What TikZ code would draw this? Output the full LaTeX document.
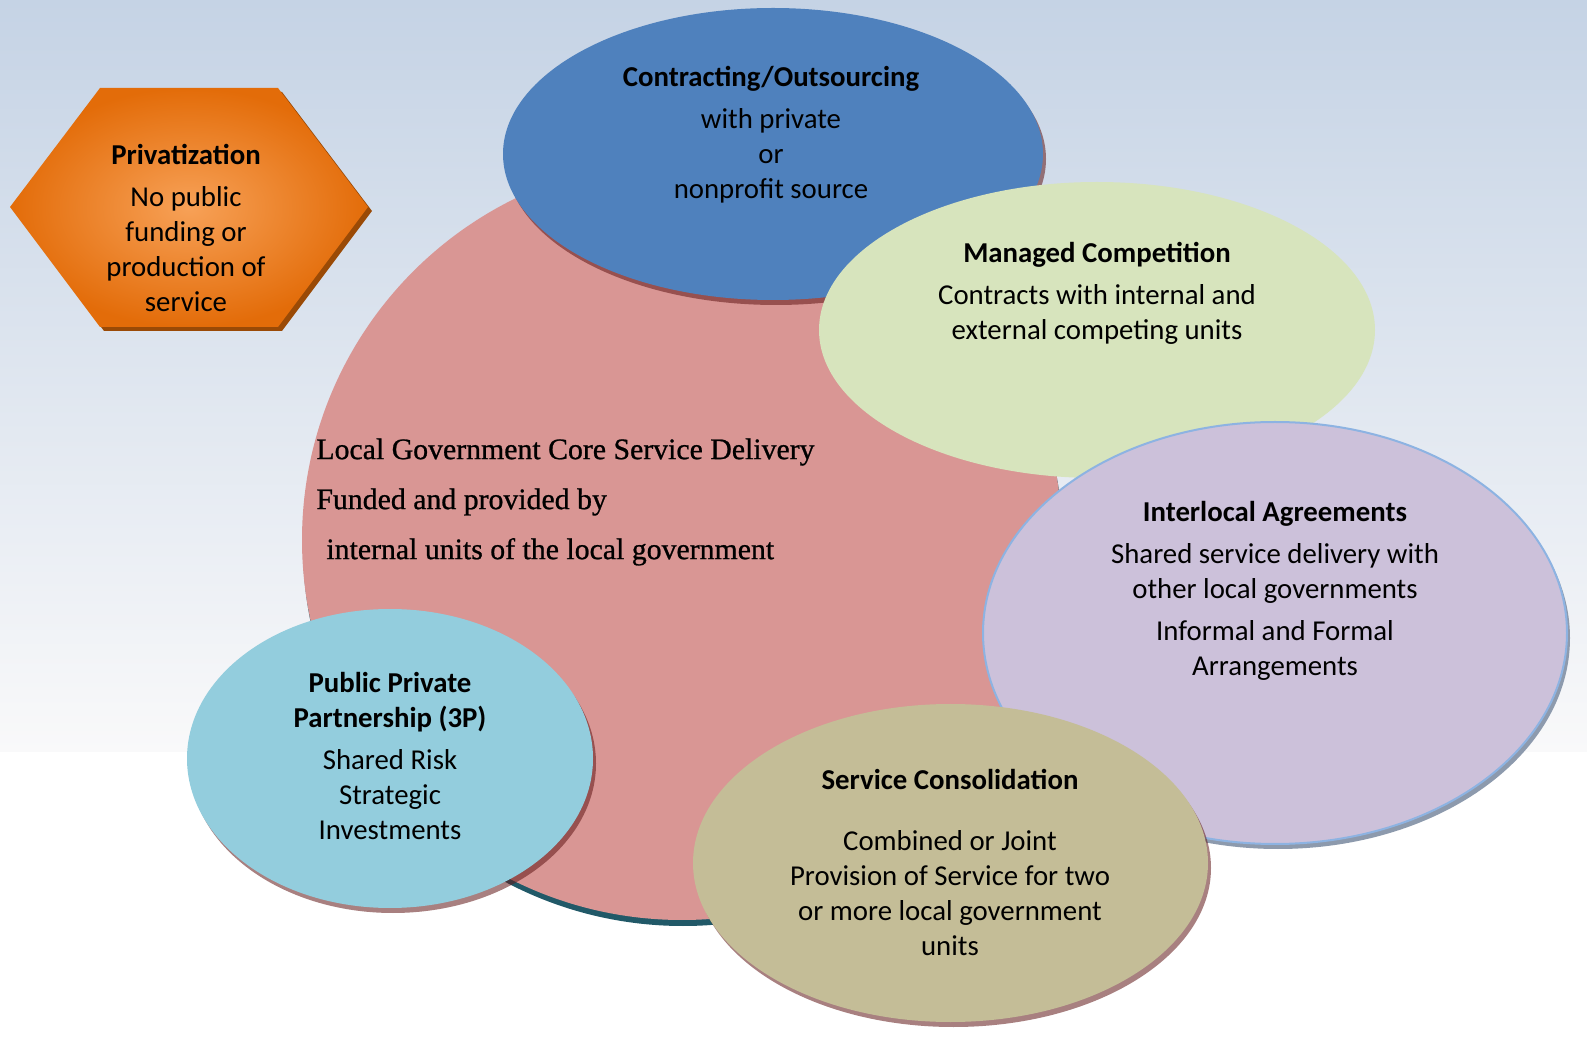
\documentclass[tikz,border=0pt]{standalone}
\usepackage{fontspec}
\newfontfamily\calib{Carlito}
\newfontfamily\coreserif[FakeBold=0.8]{Liberation Serif}
\usetikzlibrary{shapes.geometric,shadows}
\definecolor{bgtop}{HTML}{C5D3E5}
\definecolor{bgbot}{HTML}{F9F9FA}
\definecolor{corepink}{HTML}{D99694}
\definecolor{coreshadow}{HTML}{215968}
\definecolor{contrblue}{HTML}{4F81BD}
\definecolor{mgdgreen}{HTML}{D7E4BD}
\definecolor{ilpurple}{HTML}{CCC1DA}
\definecolor{ilborder}{HTML}{8DB3E2}
\definecolor{ilshadow}{HTML}{8D9AAD}
\definecolor{constan}{HTML}{C4BD97}
\definecolor{pppblue}{HTML}{93CDDD}
\definecolor{redshadow}{HTML}{611818}
\definecolor{hexin}{HTML}{F7A157}
\definecolor{hexout}{HTML}{E36C09}
\definecolor{hexshadow}{HTML}{9A4A06}
\tikzset{
  blob/.style={ellipse, inner sep=0pt, outer sep=0pt},
  redshade/.style={drop shadow={shadow xshift=1.5pt, shadow yshift=-2.5pt, fill=redshadow, opacity=0.55}},
  boxtext/.style={align=center, text=black, font=\calib\fontsize{14.4}{17.5}\selectfont},
  coretext/.style={align=left, text=black, inner sep=0pt, font=\coreserif\fontsize{14.9}{25}\selectfont}
}

\begin{document}
\begin{tikzpicture}[x=0.5pt, y=-0.5pt]
		%%%%% BACKGROUND %%%%%
		\fill[white] (0, 0) rectangle (1587, 1037);
		\shade[top color=bgtop, bottom color=bgbot] (0, 0) rectangle (1587, 752);
		
		%%%%% CORE %%%%%
		\node[blob, fill=corepink, minimum size=380pt,
		      drop shadow={shadow xshift=0.5pt, shadow yshift=-3pt, fill=coreshadow, opacity=1}] (core) at (682, 540) {};
		\node[coretext, anchor=west] (coretxt) at (316, 502)
		  {Local Government Core Service Delivery\\
		   Funded and provided by\\
		   \hspace*{5pt}internal units of the local government};
		
		%%%%% ELLIPSES %%%%%
		\node[blob, fill=contrblue, minimum width=270pt, minimum height=146pt, redshade] (contract) at (773, 154) {};
		\node[boxtext] (contracttxt) at (771, 135)
		  {\textbf{Contracting/Outsourcing}\\[3.5pt] with private\\ or\\ nonprofit source};
		
		\node[blob, fill=mgdgreen, minimum width=278pt, minimum height=148pt] (managed) at (1097, 330) {};
		\node[boxtext] (managedtxt) at (1097, 293)
		  {\textbf{Managed Competition}\\[3.5pt] Contracts with internal and\\ external competing units};
		
		\node[blob, fill=ilpurple, draw=ilborder, line width=1pt, minimum width=292pt, minimum height=211pt,
		      drop shadow={shadow xshift=1.5pt, shadow yshift=-2.5pt, fill=ilshadow, opacity=1}] (interlocal) at (1275, 633) {};
		\node[boxtext] (interlocaltxt) at (1275, 591)
		  {\textbf{Interlocal Agreements}\\[3.5pt] Shared service delivery with\\ other local governments\\[3.5pt]
		   Informal and Formal\\ Arrangements};
		
		\node[blob, fill=constan, minimum width=257.5pt, minimum height=159pt, redshade] (consol) at (950.5, 863) {};
		\node[boxtext] (consoltxt) at (950, 862)
		  {\textbf{Service Consolidation}\\[13pt] Combined or Joint\\ Provision of Service for two\\
		   or more local government\\ units};
		
		\node[blob, fill=pppblue, minimum width=203pt, minimum height=149.5pt, redshade] (ppp) at (390, 758.5) {};
		\node[boxtext] (ppptxt) at (390, 756)
		  {\textbf{Public Private}\\ \textbf{Partnership (3P)}\\[3.5pt] Shared Risk\\ Strategic\\ Investments};
		
		%%%%% HEXAGON %%%%%
		\fill[hexshadow] (14, 211) -- (104, 92) -- (282, 92) -- (372, 211) -- (282, 331) -- (104, 331) -- cycle;
		\shade[inner color=hexin, outer color=hexout] (10, 207) -- (100, 88) -- (278, 88) -- (368, 207) -- (278, 327) -- (100, 327) -- cycle;
		\node[boxtext] (privtxt) at (186, 228)
		  {\textbf{Privatization}\\[3.5pt] No public\\ funding or\\ production of\\ service};
		
		%%%%% PAGE SIZE %%%%%
		\pgfresetboundingbox
		\useasboundingbox (0, 0) rectangle (1587, 1037);
	\end{tikzpicture}
\end{document}
